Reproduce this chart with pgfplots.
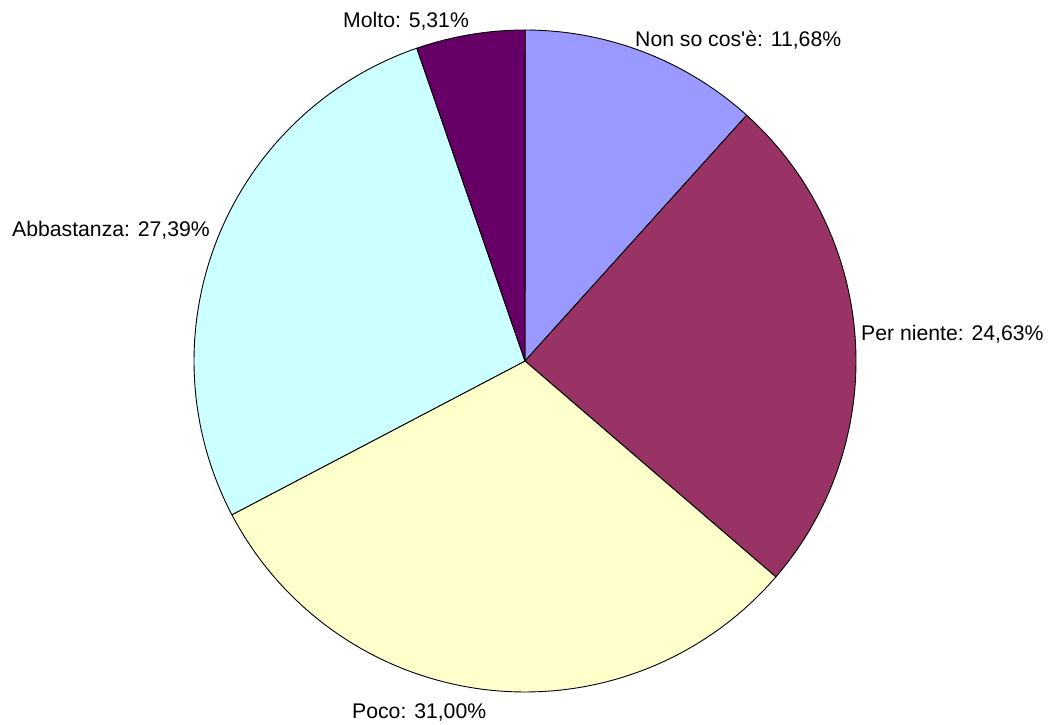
\documentclass[border=0pt]{standalone}
\usepackage{pgfplots}
\pgfplotsset{compat=1.18}
\usepackage{fontspec}
\setmainfont{Liberation Sans}
\definecolor{cA}{HTML}{9999FF}
\definecolor{cB}{HTML}{993366}
\definecolor{cC}{HTML}{FFFFCC}
\definecolor{cD}{HTML}{CCFFFF}
\definecolor{cE}{HTML}{660066}
% slice values (percent), clockwise from 12 o'clock
\def\vA{11.68}\def\vB{24.63}\def\vC{31.00}\def\vD{27.39}\def\vE{5.31}
\def\cx{525}\def\cy{363}\def\R{331}
\pgfmathsetmacro{\aA}{90}
\pgfmathsetmacro{\aB}{\aA-3.6*\vA}
\pgfmathsetmacro{\aC}{\aB-3.6*\vB}
\pgfmathsetmacro{\aD}{\aC-3.6*\vC}
\pgfmathsetmacro{\aE}{\aD-3.6*\vD}
\pgfmathsetmacro{\aF}{\aE-3.6*\vE}
\begin{document}
\begin{tikzpicture}
\begin{axis}[
  width=1055pt, height=724pt, scale only axis,
  xmin=0, xmax=1055, ymin=0, ymax=724,
  axis line style={draw=none}, ticks=none, clip=false,
  every axis plot/.append style={draw=black, line width=0.9pt, line join=round, samples=120, variable=\t},
]
\addplot[fill=cA, domain=\aB:\aA] ({\cx+\R*cos(\t)},{\cy+\R*sin(\t)}) -- (axis cs:\cx,\cy) -- cycle;
\addplot[fill=cB, domain=\aC:\aB] ({\cx+\R*cos(\t)},{\cy+\R*sin(\t)}) -- (axis cs:\cx,\cy) -- cycle;
\addplot[fill=cC, domain=\aD:\aC] ({\cx+\R*cos(\t)},{\cy+\R*sin(\t)}) -- (axis cs:\cx,\cy) -- cycle;
\addplot[fill=cD, domain=\aE:\aD] ({\cx+\R*cos(\t)},{\cy+\R*sin(\t)}) -- (axis cs:\cx,\cy) -- cycle;
\addplot[fill=cE, domain=\aF:\aE] ({\cx+\R*cos(\t)},{\cy+\R*sin(\t)}) -- (axis cs:\cx,\cy) -- cycle;
\begin{scope}[every node/.style={anchor=base west, inner sep=0pt, font=\fontsize{21.2}{25}\selectfont}]
\node at (axis cs:635,677) {Non so cos\textquotesingle è: 11,68\%};
\node at (axis cs:861,383) {Per niente: 24,63\%};
\node at (axis cs:352,6) {Poco: 31,00\%};
\node at (axis cs:12,487) {Abbastanza: 27,39\%};
\node at (axis cs:343,696) {Molto: 5,31\%};
\end{scope}
\end{axis}
\end{tikzpicture}
\end{document}
